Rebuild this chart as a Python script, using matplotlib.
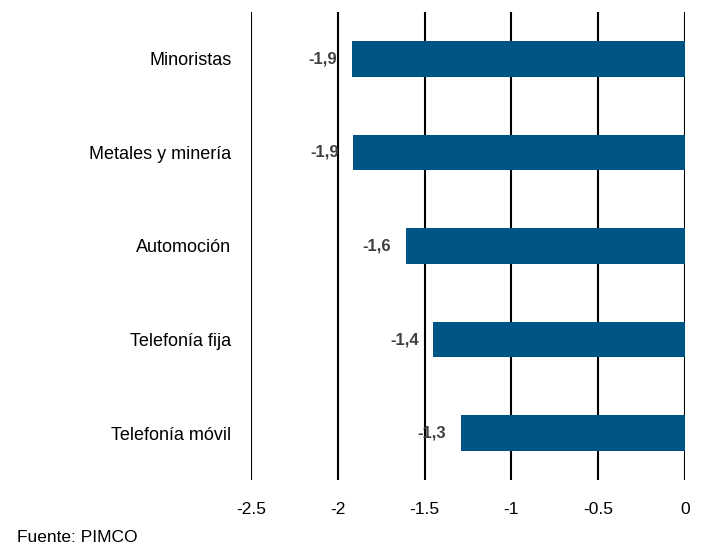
import matplotlib
matplotlib.use('Agg')
import matplotlib.pyplot as plt

plt.rcParams['font.family'] = ['Liberation Sans', 'DejaVu Sans']

sectores = ['Minoristas', 'Metales y minería', 'Automoción', 'Telefonía fija', 'Telefonía móvil']
valores = [-1.92, -1.91, -1.61, -1.45, -1.29]
etiquetas = ['-1,9', '-1,9', '-1,6', '-1,4', '-1,3']
ticks_x = [-2.5, -2, -1.5, -1, -0.5, 0]
ticks_txt = ['-2.5', '-2', '-1.5', '-1', '-0.5', '0']

fig = plt.figure(figsize=(7.05, 5.44), dpi=100)
ax = fig.add_axes([251/705, 64/544, 434/705, 468/544])

ax.barh(range(len(sectores)), valores, height=0.38, color='#005587', zorder=3)
for i, (v, t) in enumerate(zip(valores, etiquetas)):
    ax.text(v - 0.085, i, t, ha='right', va='center', fontsize=12,
            fontweight='bold', color='#404040', zorder=4)

ax.set_xlim(-2.5, 0)
ax.set_ylim(4.5, -0.5)
ax.set_xticks(ticks_x)
ax.set_xticklabels(ticks_txt, fontsize=12.5)
ax.set_yticks(range(len(sectores)))
ax.set_yticklabels(sectores, fontsize=13)
ax.tick_params(axis='both', length=0)
ax.tick_params(axis='y', pad=14)
ax.tick_params(axis='x', pad=16)
for x in ticks_x:
    ax.axvline(x, color='black', linewidth=1.5, zorder=2)
for s in ax.spines.values():
    s.set_visible(False)

fig.text(17/705, 1 - 542/544, 'Fuente: PIMCO', fontsize=12.5, va='baseline', ha='left')

fig.savefig('out.png', dpi=100)
